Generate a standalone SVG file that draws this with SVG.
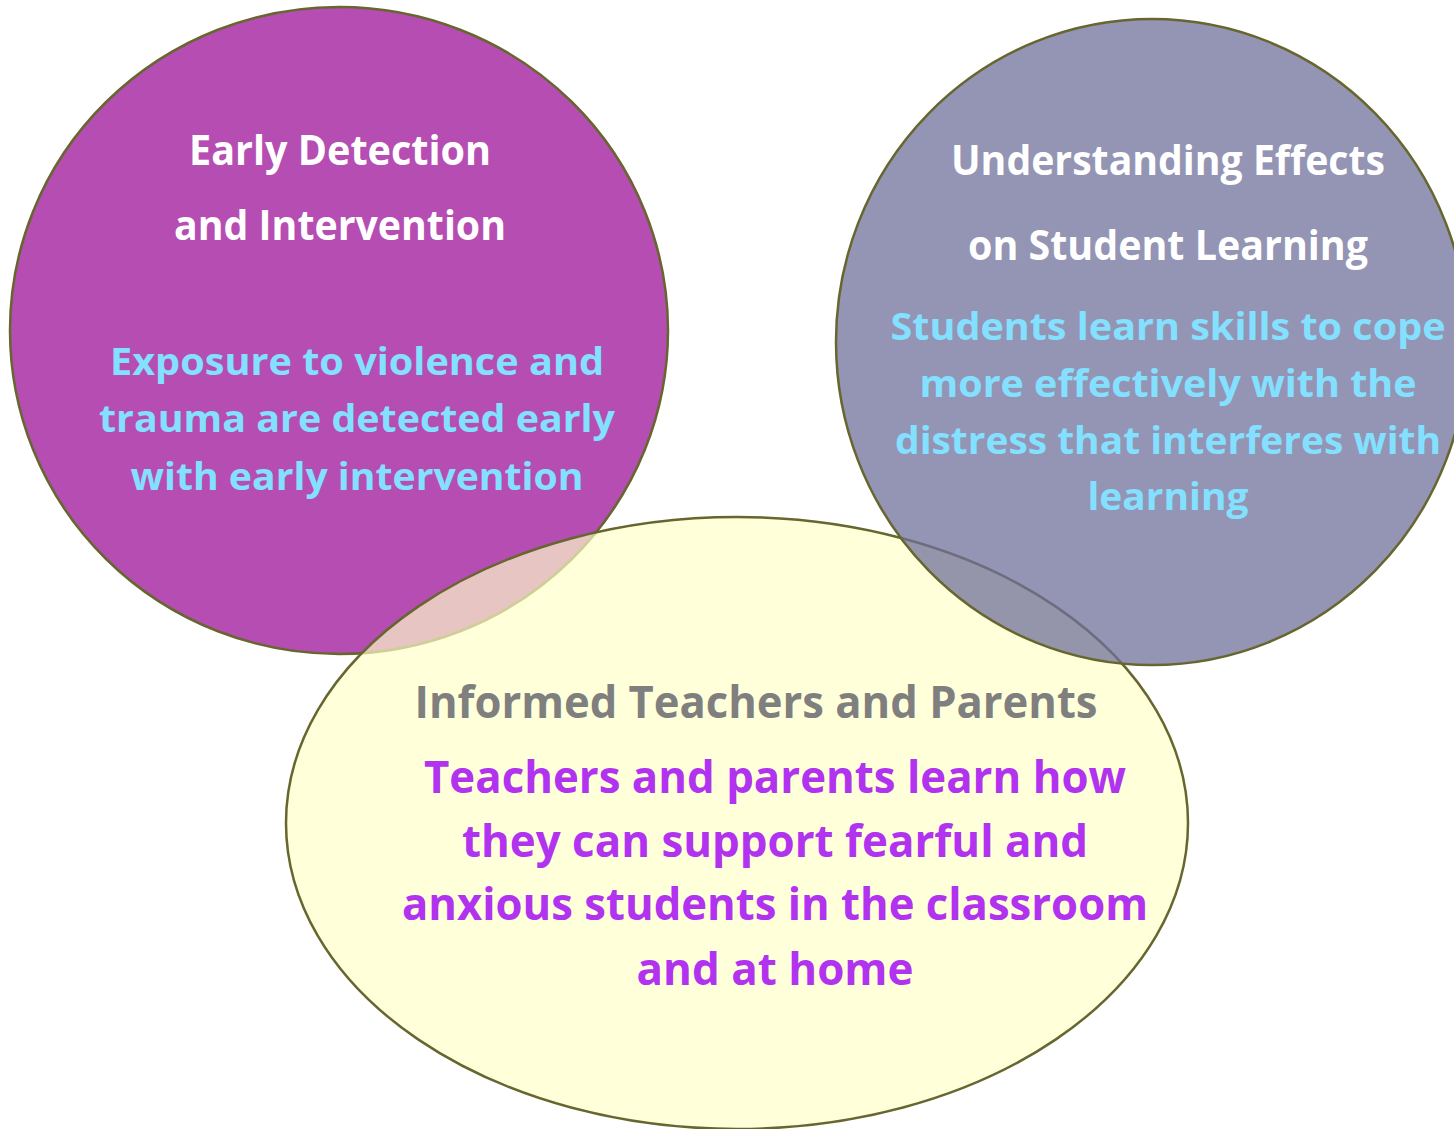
<svg xmlns="http://www.w3.org/2000/svg" width="1454" height="1129" viewBox="0 0 1454 1129">
<style>
text{font-family:"Open Sans","Noto Sans","Liberation Sans",sans-serif;font-weight:700;text-anchor:middle}
.ol{stroke:#66662e;stroke-width:2.5}
.w{fill:#ffffff;font-size:42px}
.c{fill:#84e0ff;font-size:38px}
.g{fill:#7f7f7f;font-size:44px}
.m{fill:#b133f0;font-size:45px}
</style>
<rect width="1454" height="1129" fill="#ffffff"/>
<g id="early-detection">
<ellipse class="ol" cx="339" cy="330.5" rx="329" ry="323.5" fill="#b54db3"/>
<text class="w" x="340" y="165" textLength="302" lengthAdjust="spacingAndGlyphs">Early Detection</text>
<text class="w" x="340" y="240" textLength="332" lengthAdjust="spacingAndGlyphs">and Intervention</text>
<text class="c" x="357" y="375" textLength="494" lengthAdjust="spacingAndGlyphs">Exposure to violence and</text>
<text class="c" x="357" y="432" textLength="516" lengthAdjust="spacingAndGlyphs">trauma are detected early</text>
<text class="c" x="357" y="490" textLength="453" lengthAdjust="spacingAndGlyphs">with early intervention</text>
</g>
<g id="informed-teachers">
<ellipse class="ol" cx="737" cy="823" rx="451" ry="306" fill="#ffffc8" fill-opacity="0.68"/>
<text class="g" x="756" y="718" textLength="683" lengthAdjust="spacingAndGlyphs">Informed Teachers and Parents</text>
<text class="m" x="775" y="793" textLength="702" lengthAdjust="spacingAndGlyphs">Teachers and parents learn how</text>
<text class="m" x="775" y="857" textLength="626" lengthAdjust="spacingAndGlyphs">they can support fearful and</text>
<text class="m" x="775" y="920" textLength="746" lengthAdjust="spacingAndGlyphs">anxious students in the classroom</text>
<text class="m" x="775" y="985" textLength="277" lengthAdjust="spacingAndGlyphs">and at home</text>
</g>
<g id="understanding-effects">
<ellipse cx="1152" cy="342" rx="316" ry="323" fill="#70709b" fill-opacity="0.75"/>
<ellipse class="ol" cx="1152" cy="342" rx="316" ry="323" fill="none"/>
<text class="w" x="1168" y="175" textLength="434" lengthAdjust="spacingAndGlyphs">Understanding Effects</text>
<text class="w" x="1168" y="260" textLength="400" lengthAdjust="spacingAndGlyphs">on Student Learning</text>
<text class="c" x="1168" y="340" textLength="555" lengthAdjust="spacingAndGlyphs">Students learn skills to cope</text>
<text class="c" x="1168" y="397" textLength="497" lengthAdjust="spacingAndGlyphs">more effectively with the</text>
<text class="c" x="1168" y="454" textLength="546" lengthAdjust="spacingAndGlyphs">distress that interferes with</text>
<text class="c" x="1168" y="510" textLength="161" lengthAdjust="spacingAndGlyphs">learning</text>
</g>
<g id="connectors"/>
</svg>
